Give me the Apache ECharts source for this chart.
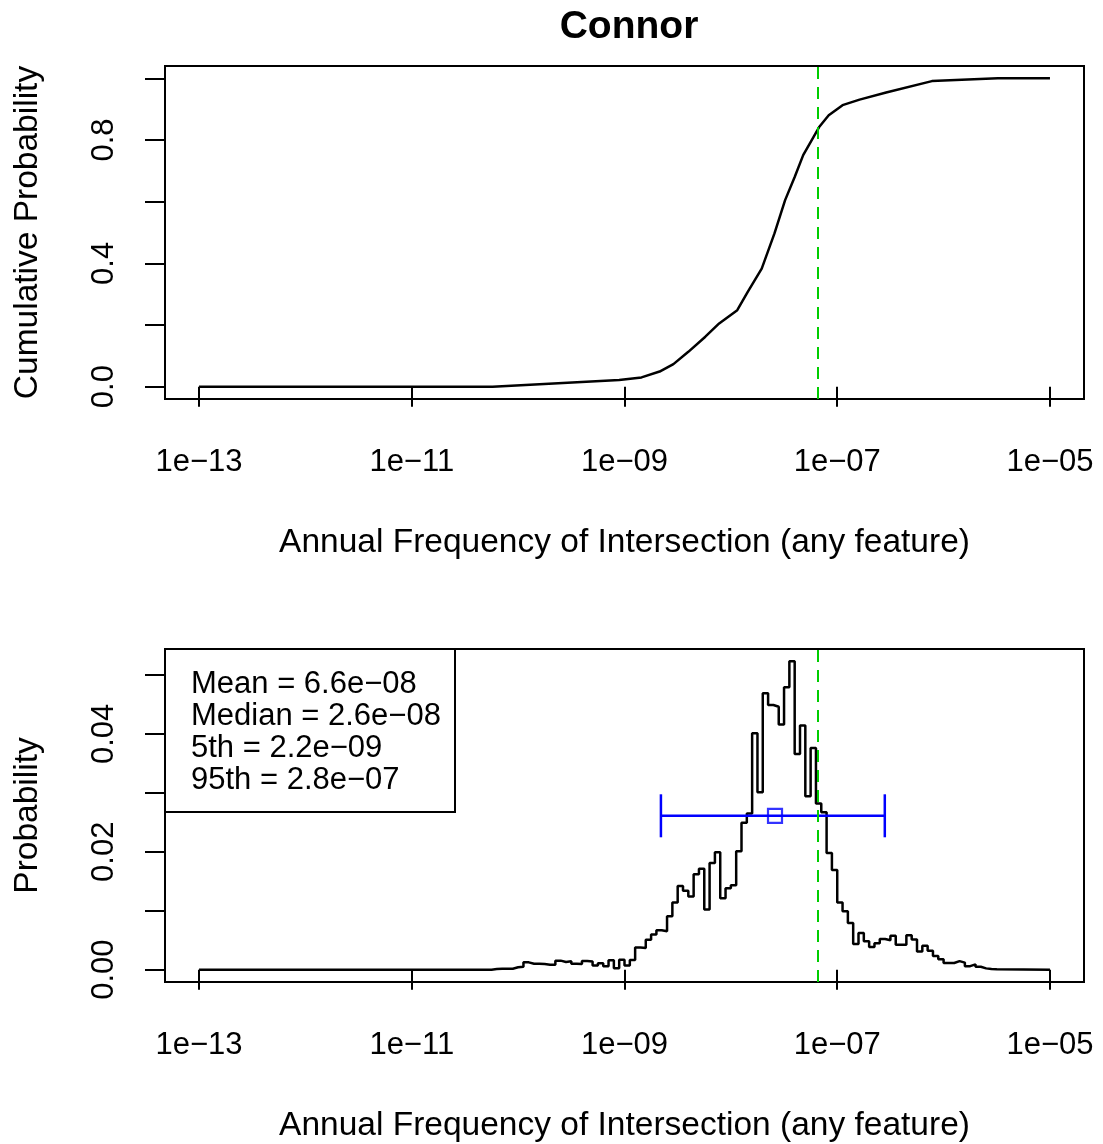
<!DOCTYPE html>
<html><head><meta charset="utf-8">
<script src="https://cdn.jsdelivr.net/npm/echarts@6/dist/echarts.min.js"></script>
<style>html,body{margin:0;padding:0;background:#fff}#c{width:1103px;height:1144px}</style>
</head><body><div id="c"></div>
<script>
// ---------- data ----------
const titleText = 'Connor';
const xAxisTitle = 'Annual Frequency of Intersection (any feature)';
const topYTitle = 'Cumulative Probability';
const bottomYTitle = 'Probability';
const xTickLog10 = [-13, -11, -9, -7, -5];
const topYTicks = [0, 0.2, 0.4, 0.6, 0.8, 1.0];
const topYLabels = [0, 0.4, 0.8];
const bottomYTicks = [0, 0.01, 0.02, 0.03, 0.04, 0.05];
const bottomYLabels = [0, 0.02, 0.04];

// cumulative distribution (x as log10 of annual frequency)
const cdfLog10 = [-13, -10.24, -9.05, -8.84, -8.67, -8.54, -8.40, -8.24, -8.11, -7.94, -7.84, -7.71,
                  -7.59, -7.49, -7.40, -7.32, -7.17, -7.08, -6.95, -6.79, -6.54, -6.11, -5.49, -5];
const cdfProb = [0, 0, 0.022, 0.030, 0.049, 0.073, 0.113, 0.162, 0.205, 0.248, 0.308, 0.383,
                 0.497, 0.605, 0.680, 0.751, 0.842, 0.880, 0.913, 0.931, 0.954, 0.991, 1.0, 1.0];

// histogram: bins of 0.05 decades, first non-zero bin starting at log10 = -10.25
const histRangeLog10 = [-13, -5];
const histFirstEdgeLog10 = -10.25;
const histBinWidthLog10 = 0.05;
const histProb = [
  0.0001, 0.00015, 0.00017, 0.00017, 0.0004, 0.0005, 0.00124, 0.0010, 0.0010, 0.00095,
  0.00085, 0.00085, 0.00153, 0.0013, 0.00141, 0.0010, 0.00096, 0.00145, 0.0014, 0.0007,
  0.0011, 0.00056, 0.00158, 0.00025, 0.00169, 0.0007, 0.00165,
  0.00375, 0.00367, 0.00508, 0.00595, 0.00667, 0.0065, 0.00904, 0.0114, 0.0142,
  0.0134, 0.0124, 0.0162, 0.0171, 0.0102, 0.0181, 0.0199, 0.0121, 0.0138, 0.0143,
  0.0201, 0.0249, 0.0265, 0.0401, 0.0301, 0.0469, 0.0449, 0.0446, 0.0416, 0.0479, 0.0523,
  0.0366, 0.0414, 0.0294, 0.0376, 0.0282, 0.0267, 0.0198, 0.0169, 0.0114, 0.0099, 0.0079,
  0.00435, 0.0062, 0.0048, 0.00384, 0.0045, 0.0052, 0.0050, 0.00576, 0.00424, 0.00424,
  0.00585, 0.0051, 0.0031, 0.00407, 0.0032, 0.0023, 0.00175, 0.00113, 0.00113, 0.00145,
  0.0012, 0.0006, 0.0009, 0.0005, 0.00022, 0.0001, 0.00008
];

// summary statistics
const statNames = ['Mean', 'Median', '5th', '95th'];
const statValues = [6.6e-8, 2.6e-8, 2.2e-9, 2.8e-7];
const errbarY = 0.0261;

// ---------- helpers ----------
const FONT = '"Liberation Sans", Arial, Helvetica, sans-serif';
const MINUS = '\u2212';
function fmtTick(v) { return '1e' + MINUS + String(Math.abs(Math.round(v))).padStart(2, '0'); }
function fmtSci(v) {
  const s = v.toExponential(1).split('e');
  const e = parseInt(s[1], 10);
  return s[0] + 'e' + (e < 0 ? MINUS : '+') + String(Math.abs(e)).padStart(2, '0');
}
const meanLog = Math.log10(statValues[0]);
const medianLog = Math.log10(statValues[1]);
const p5Log = Math.log10(statValues[2]);
const p95Log = Math.log10(statValues[3]);

const cdfData = cdfLog10.map((x, i) => [x, cdfProb[i]]);

const histData = [[histRangeLog10[0], 0], [histFirstEdgeLog10, 0]];
histProb.forEach((v, i) => {
  const x0 = histFirstEdgeLog10 + i * histBinWidthLog10;
  histData.push([x0, v], [x0 + histBinWidthLog10, v]);
});
const lastEdge = histFirstEdgeLog10 + histProb.length * histBinWidthLog10;
histData.push([lastEdge, 0], [histRangeLog10[1], 0]);

const histMax = Math.max(...histProb);

const axisLineStyle = { color: '#000', width: 2 };
const tickText = { color: '#000', fontFamily: FONT, fontSize: 31 };
const nameText = { color: '#000', fontFamily: FONT, fontSize: 33.5 };

function xAxis(gi) {
  return {
    type: 'value', gridIndex: gi, min: -13.32, max: -4.68,
    axisLine: { show: false }, splitLine: { show: false },
    axisTick: { show: true, customValues: xTickLog10, length: 20, lineStyle: axisLineStyle },
    axisLabel: { customValues: xTickLog10, formatter: fmtTick, margin: 48, ...tickText },
    name: xAxisTitle, nameLocation: 'middle', nameGap: 127, nameTextStyle: { ...nameText }
  };
}
function yAxis(gi, min, max, ticks, labels, digits, name) {
  return {
    type: 'value', gridIndex: gi, min: min, max: max,
    axisLine: { show: false }, splitLine: { show: false },
    axisTick: { show: true, customValues: ticks, length: 20, lineStyle: axisLineStyle },
    axisLabel: { customValues: labels, formatter: v => v.toFixed(digits), rotate: 90, margin: 45, ...tickText },
    name: name, nameLocation: 'middle', nameGap: 120, nameTextStyle: { ...nameText }
  };
}

const greenLine = {
  silent: true, symbol: 'none', label: { show: false },
  lineStyle: { color: '#00cd00', type: [12, 8], width: 2 },
  data: [{ xAxis: meanLog }]
};

const legendText = statNames.map((n, i) => n + ' = ' + fmtSci(statValues[i])).join('\n');

const chart = echarts.init(document.getElementById('c'), null, { renderer: 'canvas' });
chart.setOption({
  animation: false,
  backgroundColor: '#fff',
  title: {
    text: titleText, left: 624, textAlign: 'center', top: 3,
    textStyle: { color: '#000', fontFamily: FONT, fontSize: 39, fontWeight: 'bold' }
  },
  grid: [
    { left: 165, top: 66, width: 919, height: 333, show: true, borderColor: '#000', borderWidth: 2, backgroundColor: 'transparent' },
    { left: 165, top: 649, width: 919, height: 333, show: true, borderColor: '#000', borderWidth: 2, backgroundColor: 'transparent' }
  ],
  xAxis: [xAxis(0), xAxis(1)],
  yAxis: [
    yAxis(0, -0.04, 1.04, topYTicks, topYLabels, 1, topYTitle),
    yAxis(1, -0.04 * histMax, 1.04 * histMax, bottomYTicks, bottomYLabels, 2, bottomYTitle)
  ],
  series: [
    {
      type: 'line', xAxisIndex: 0, yAxisIndex: 0, data: cdfData, showSymbol: false,
      lineStyle: { color: '#000', width: 2.5 }, itemStyle: { color: '#000' }, markLine: greenLine, z: 3
    },
    {
      type: 'line', xAxisIndex: 1, yAxisIndex: 1, data: histData, showSymbol: false,
      lineStyle: { color: '#000', width: 2.5 }, itemStyle: { color: '#000' }, markLine: greenLine, z: 3
    },
    {
      type: 'line', xAxisIndex: 1, yAxisIndex: 1, data: [[p5Log, errbarY], [p95Log, errbarY]],
      showSymbol: true, symbol: 'rect', symbolSize: [2.5, 43],
      lineStyle: { color: '#0000ff', width: 2.5 }, itemStyle: { color: '#0000ff' }, z: 4
    },
    {
      type: 'scatter', xAxisIndex: 1, yAxisIndex: 1, data: [[medianLog, errbarY]],
      symbol: 'rect', symbolSize: 14,
      itemStyle: { color: 'rgba(0,0,0,0)', borderColor: '#0000ff', borderWidth: 2.2 }, z: 5
    }
  ],
  graphic: [
    {
      type: 'rect', shape: { x: 165, y: 649, width: 290, height: 163 },
      style: { fill: 'none', stroke: '#000', lineWidth: 2 }, z: 10
    },
    {
      type: 'text', x: 191, y: 668,
      style: { text: legendText, fill: '#000', font: '31px ' + FONT, lineHeight: 32, verticalAlign: 'top' }, z: 10
    }
  ]
});
</script>
</body></html>
